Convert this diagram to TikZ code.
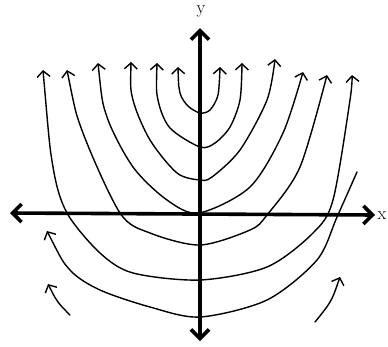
\documentclass[tikz,border=0pt]{standalone}
\usepackage{tikz}
\usetikzlibrary{arrows.meta}
\tikzset{
  ax/.style={line width=3.6pt,line cap=round,
             {Straight Barb[length=9pt,width=18pt,line width=3.6pt]}-{Straight Barb[length=9pt,width=18pt,line width=3.6pt]}},
  fl/.style={line width=1.4pt,line cap=round},
  bothup/.style={fl,{Straight Barb[length=6pt,width=13pt]}-{Straight Barb[length=6pt,width=13pt]}},
  oneup/.style={fl,{Straight Barb[length=6pt,width=13pt]}-},
  lbl/.style={font=\fontsize{18}{18}\selectfont,inner sep=0pt}
}
\begin{document}
\begin{tikzpicture}[x=1pt,y=-1pt]
  \useasboundingbox (0,0) rectangle (388,346);
  % axes
  \coordinate (xl) at (10,213);
  \coordinate (xr) at (375,215);
  \coordinate (yb) at (200,341);
  \coordinate (yt) at (200,28);
  \draw[ax] (xl) -- (xr);
  \draw[ax] (yb) -- (yt);
  \node[lbl] (xlab) at (382,216) {x};
  \node[lbl] (ylab) at (201,11) {y};
  % flow lines, innermost first
  \draw[bothup] plot[smooth] coordinates {(178,67) (180,93) (188,106) (200,113) (210,110) (218,95) (220,67)};
  \draw[bothup] plot[smooth] coordinates {(157,63) (158,100) (170,128) (200,147) (215,143) (230,127) (240,100) (242,63)};
  \draw[bothup] plot[smooth] coordinates {(131,62) (133,100) (150,140) (177,173) (200,180) (212,177) (240,150) (267,100) (275,59)};
  \draw[bothup] plot[smooth] coordinates {(98,63) (107,117) (133,167) (167,200) (199,213) (250,187) (283,133) (303,72)};
  \draw[bothup] plot[smooth] coordinates {(67,70) (83,133) (120,213) (150,233) (200,245) (250,230) (267,215) (300,167) (327,75)};
  \draw[bothup] plot[smooth] coordinates {(43,70) (53,167) (67,213) (100,253) (133,273) (200,280) (267,267) (313,233) (333,200) (350,100) (352,75)};
  \draw[oneup] plot[smooth] coordinates {(47,231) (70,270) (100,290) (150,307) (200,317) (267,300) (317,260) (337,217) (357,172)};
  % short pieces at the bottom
  \draw[oneup] plot[smooth] coordinates {(48,284) (58,302) (70,315)};
  \draw[oneup] plot[smooth] coordinates {(340,277) (330,302) (315,322)};
\end{tikzpicture}
\end{document}
